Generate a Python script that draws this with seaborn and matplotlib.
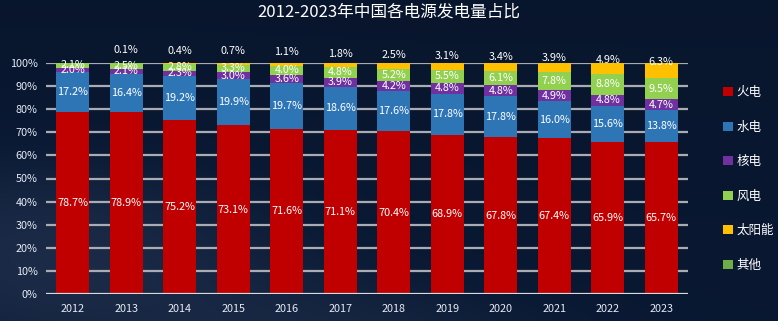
import numpy as np
import pandas as pd
import matplotlib
matplotlib.use("Agg")
import matplotlib.pyplot as plt
from matplotlib.patches import Patch
from matplotlib.colors import LinearSegmentedColormap
import seaborn as sns

# Share of China's power generation by source (%)
years = ["2012", "2013", "2014", "2015", "2016", "2017",
         "2018", "2019", "2020", "2021", "2022", "2023"]
thermal = [78.7, 78.9, 75.2, 73.1, 71.6, 71.1, 70.4, 68.9, 67.8, 67.4, 65.9, 65.7]
hydro = [17.2, 16.4, 19.2, 19.9, 19.7, 18.6, 17.6, 17.8, 17.8, 16.0, 15.6, 13.8]
nuclear = [2.0, 2.1, 2.3, 3.0, 3.6, 3.9, 4.2, 4.8, 4.8, 4.9, 4.8, 4.7]
wind = [2.1, 2.5, 2.8, 3.3, 4.0, 4.8, 5.2, 5.5, 6.1, 7.8, 8.8, 9.5]
solar = [0.0, 0.1, 0.4, 0.7, 1.1, 1.8, 2.5, 3.1, 3.4, 3.9, 4.9, 6.3]
other = [0.0] * 12

series_names = ["火电", "水电", "核电", "风电", "太阳能", "其他"]
series_vals = [thermal, hydro, nuclear, wind, solar, other]
colors = ["#c00000", "#2e75b6", "#7030a0", "#92d050", "#ffc000", "#70ad47"]

sns.set_theme(style="white")
plt.rcParams["font.family"] = ["Noto Sans CJK SC", "DejaVu Sans"]

W, H = 778, 321
fig = plt.figure(figsize=(W / 100, H / 100), dpi=100)

# dark navy backdrop with a soft lighter haze towards the lower left
bg = fig.add_axes([0, 0, 1, 1], zorder=-10)
yy, xx = np.mgrid[0:1:200j, 0:1:400j]
haze = np.exp(-(((xx - 0.05) / 0.35) ** 2 + ((yy - 0.75) / 0.35) ** 2))
haze += 0.5 * np.exp(-(((xx - 0.45) / 0.3) ** 2 + ((yy - 1.05) / 0.2) ** 2))
cmap = LinearSegmentedColormap.from_list("bg", ["#061329", "#0b1a35", "#1f2f4b"])
bg.imshow(np.clip(0.35 + 0.65 * haze, 0, 1) * (0.55 + 0.45 * yy), cmap=cmap,
          aspect="auto", extent=[0, 1, 1, 0], vmin=0, vmax=1)
bg.set_axis_off()

ax = fig.add_axes([46 / W, (H - 294) / H, (688 - 46) / W, 231 / H])
ax.set_facecolor("none")

df = pd.DataFrame({"year": years})
for name, vals in zip(series_names, series_vals):
    df[name] = vals

# stacked bars: draw cumulative totals from the top layer down
cum = np.cumsum(np.array(series_vals), axis=0)
for i in range(len(series_names) - 1, -1, -1):
    sns.barplot(x=df["year"], y=cum[i], order=years, color=colors[i],
                saturation=1, width=0.62, ax=ax, zorder=3 + (6 - i) * 0.01,
                linewidth=0)

ax.set_xlim(-0.5, 11.5)
ax.set_ylim(0, 100)
ax.set_yticks(np.arange(0, 101, 10))
ax.set_yticklabels([f"{v}%" for v in range(0, 101, 10)])
ax.set_xlabel("")
ax.set_ylabel("")
for y in range(10, 101, 10):
    ax.axhline(y, color="#a9adb3", lw=1.6, zorder=1)
ax.axhline(0, color="#d8dbe0", lw=1.6, zorder=4)
for s in ax.spines.values():
    s.set_visible(False)
ax.tick_params(axis="both", length=0, colors="#e6ebf5", labelsize=7.8)
ax.tick_params(axis="y", pad=6)
ax.tick_params(axis="x", pad=7)

# value labels at segment centres
base = np.zeros(len(years))
for i, vals in enumerate(series_vals[:4]):
    for j, v in enumerate(vals):
        if v > 0:
            ax.text(j, base[j] + v / 2, f"{v:.1f}%", ha="center", va="center",
                    color="white", fontsize=7.8, zorder=10)
    base += np.array(vals)
for j, v in enumerate(solar):
    if v > 0:
        ax.text(j, 105.6 - 0.85 * v, f"{v:.1f}%", ha="center", va="center",
                color="white", fontsize=7.8, zorder=10, clip_on=False)

fig.text(0.5, 1 - 12 / H, "2012-2023年中国各电源发电量占比", ha="center", va="center",
         color="white", fontsize=12)

handles = [Patch(facecolor=c, edgecolor="none") for c in colors]
fig.legend(handles, series_names, loc="upper left",
           bbox_to_anchor=(712 / W, 1 - 75 / H), frameon=False,
           labelcolor="white", fontsize=9, handlelength=0.75,
           handleheight=0.75, handletextpad=0.3, labelspacing=1.72)

fig.savefig("out.png", dpi=100, facecolor=fig.get_facecolor())
